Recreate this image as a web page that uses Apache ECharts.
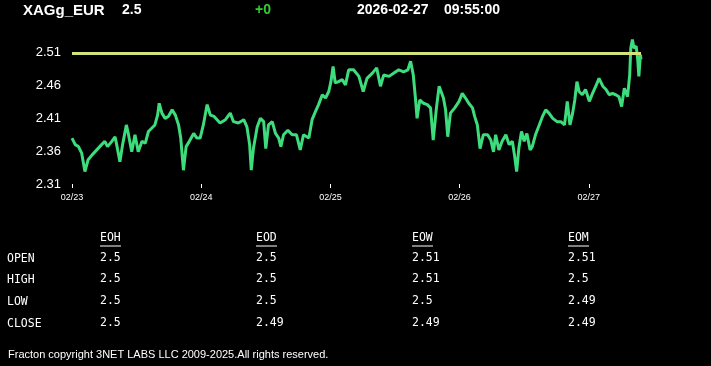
<!DOCTYPE html>
<html>
<head>
<meta charset="utf-8">
<script src="https://cdn.jsdelivr.net/npm/echarts@6/dist/echarts.min.js"></script>
<style>
html,body{margin:0;padding:0;background:#000;}
#chart{width:711px;height:366px;}
</style>
</head>
<body>
<div id="chart"></div>
<script>
// ---- header ----
var symbolName = 'XAGg_EUR';
var lastPrice = '2.5';
var changeText = '+0';
var dateText = '2026-02-27';
var timeText = '09:55:00';

// ---- axes ----
var yTickLabels = [2.31, 2.36, 2.41, 2.46, 2.51];
var dayTicks = [0, 24, 48, 72, 96];          // hours since 02/23 00:00
var dayLabels = ['02/23', '02/24', '02/25', '02/26', '02/27'];
var refLevel = 2.507;

// ---- series: hours since 02/23 00:00, price ----
var hours = [0,0.6,1.2,1.8,2.4,3.0,3.7,4.6,5.5,6.1,6.6,7.4,8.0,8.3,8.9,9.4,10.1,10.5,11.1,11.7,12.3,13.0,13.6,14.2,14.8,15.4,15.9,16.2,16.7,17.3,17.9,18.6,19.2,19.8,20.2,20.7,21.2,21.8,22.6,23.2,23.8,24.4,25.1,25.7,26.4,
 27.5,28.5,29.4,30.0,30.9,31.9,32.5,33.0,33.3,33.7,34.4,35.0,35.6,36.0,36.5,37.2,37.8,38.4,38.8,39.3,40.1,40.9,41.7,42.4,43.0,44.0,44.6,45.2,45.8,46.5,47.1,47.7,48.1,48.5,48.9,49.5,50.2,50.8,51.4,52.3,
 53.3,54.1,54.8,55.8,56.6,57.3,57.9,58.9,59.8,60.7,61.6,62.4,62.9,63.4,63.8,64.1,64.6,65.3,66.0,66.6,67.1,67.7,68.2,69.0,69.4,69.8,70.3,71.1,71.9,72.5,73.1,73.7,74.4,74.8,75.3,75.8,76.4,77.2,77.8,78.3,78.7,
 79.3,79.9,80.6,81.2,81.8,82.2,82.6,83.0,83.5,84.0,84.5,85.1,85.5,86.1,86.8,87.4,88.0,88.6,89.3,90.1,90.8,91.5,92.0,92.5,93.0,93.4,93.8,94.2,94.8,95.4,96.1,96.7,97.3,97.9,98.6,99.2,99.8,100.4,101.0,101.6,102.1,102.6,103.2,103.6,103.8,104.1,104.4,104.8,105.1,105.3,105.6,105.7];
var prices = [2.380,2.370,2.367,2.357,2.329,2.347,2.354,2.362,2.370,2.375,2.367,2.375,2.382,2.370,2.344,2.370,2.400,2.385,2.359,2.385,2.359,2.375,2.372,2.390,2.395,2.400,2.415,2.433,2.418,2.410,2.413,2.423,2.415,2.400,2.380,2.331,2.367,2.375,2.387,2.380,2.380,2.400,2.431,2.415,2.413,
 2.403,2.408,2.418,2.405,2.403,2.408,2.397,2.370,2.331,2.364,2.397,2.410,2.405,2.364,2.400,2.405,2.387,2.380,2.367,2.385,2.392,2.385,2.385,2.362,2.385,2.380,2.408,2.420,2.431,2.446,2.441,2.451,2.466,2.489,2.464,2.466,2.469,2.461,2.484,2.484,
 2.474,2.451,2.471,2.479,2.487,2.459,2.476,2.474,2.479,2.484,2.481,2.484,2.497,2.476,2.441,2.410,2.438,2.433,2.431,2.426,2.377,2.426,2.459,2.441,2.423,2.382,2.418,2.426,2.436,2.448,2.441,2.433,2.426,2.413,2.400,2.364,2.385,2.385,2.377,2.359,2.385,
 2.362,2.375,2.385,2.370,2.375,2.354,2.329,2.364,2.390,2.375,2.387,2.362,2.367,2.385,2.400,2.413,2.423,2.418,2.410,2.405,2.405,2.400,2.436,2.400,2.418,2.438,2.466,2.451,2.446,2.454,2.436,2.448,2.459,2.471,2.459,2.454,2.446,2.448,2.446,2.443,2.428,2.456,2.443,2.476,2.517,2.530,2.517,2.520,2.499,2.474,2.507,2.500];

// ---- table ----
var tableCols = ['EOH', 'EOD', 'EOW', 'EOM'];
var rowLabels = ['OPEN', 'HIGH', 'LOW', 'CLOSE'];
var tableValues = [
  ['2.5', '2.5', '2.51', '2.51'],
  ['2.5', '2.5', '2.51', '2.5'],
  ['2.5', '2.5', '2.5', '2.49'],
  ['2.5', '2.49', '2.49', '2.49']
];
var footerText = 'Fracton copyright 3NET LABS LLC 2009-2025.All rights reserved.';

var seriesData = hours.map(function (h, i) { return [h, prices[i]]; });

var colX = [100, 256, 412, 568];
var headerY = 239;
var rowY = [260, 281, 303, 325];
var mono = '"DejaVu Sans Mono", monospace';
var graphics = [];
tableCols.forEach(function (c, j) {
  graphics.push({type: 'text', left: colX[j], top: headerY - 7,
    style: {text: c, fill: '#fff', font: '11.5px ' + mono}});
  graphics.push({type: 'line', shape: {x1: colX[j], y1: headerY + 7, x2: colX[j] + c.length * 7, y2: headerY + 7},
    style: {stroke: '#fff', lineWidth: 1}});
});
rowLabels.forEach(function (r, i) {
  graphics.push({type: 'text', left: 7, top: rowY[i] - 7,
    style: {text: r, fill: '#fff', font: '11.5px ' + mono}});
  tableValues[i].forEach(function (v, j) {
    graphics.push({type: 'text', left: colX[j], top: rowY[i] - 8,
      style: {text: v, fill: '#fff', font: '11.5px ' + mono}});
  });
});
var hdrFont = 'bold 14px "Liberation Sans", Arial, sans-serif';
graphics.push({type: 'text', left: 23, top: 3, style: {text: symbolName, fill: '#fff', font: 'bold 15px "Liberation Sans", Arial, sans-serif'}});
graphics.push({type: 'text', left: 122, top: 3, style: {text: lastPrice, fill: '#fff', font: hdrFont}});
graphics.push({type: 'text', left: 255, top: 3, style: {text: changeText, fill: '#33cc33', font: hdrFont}});
graphics.push({type: 'text', left: 357, top: 3, style: {text: dateText, fill: '#fff', font: hdrFont}});
graphics.push({type: 'text', left: 444, top: 3, style: {text: timeText, fill: '#fff', font: hdrFont}});
graphics.push({type: 'text', left: 8, top: 349, style: {text: footerText, fill: '#fff', font: '11px "Liberation Sans", Arial, sans-serif'}});

var chart = echarts.init(document.getElementById('chart'), null, {renderer: 'canvas'});
chart.setOption({
  backgroundColor: '#000',
  animation: false,
  grid: {left: 72, right: 70, top: 37, bottom: 182, containLabel: false},
  xAxis: {
    type: 'value', min: 0, max: 105.7,
    axisLine: {show: false},
    splitLine: {show: false},
    axisTick: {show: true, length: 4, customValues: dayTicks, lineStyle: {color: '#fff', width: 1}},
    axisLabel: {
      customValues: dayTicks, color: '#fff', fontSize: 9, margin: 9,
      fontFamily: '"Liberation Sans", Arial, sans-serif',
      formatter: function (v) { var k = dayTicks.indexOf(v); return k >= 0 ? dayLabels[k] : ''; }
    }
  },
  yAxis: {
    type: 'value', min: 2.31, max: 2.534, scale: true,
    axisLine: {show: false}, axisTick: {show: false}, splitLine: {show: false},
    axisLabel: {
      customValues: yTickLabels, color: '#fff', fontSize: 13, margin: 11,
      fontFamily: '"Liberation Sans", Arial, sans-serif',
      formatter: function (v) { return v.toFixed(2); }
    }
  },
  series: [{
    type: 'line', data: seriesData, showSymbol: false, symbol: 'none',
    lineStyle: {color: '#3ddc7c', width: 3},
    markLine: {
      symbol: ['none', 'none'], silent: true, label: {show: false},
      lineStyle: {color: '#d5e27a', width: 3, type: 'solid'},
      data: [{yAxis: refLevel}]
    }
  }],
  graphic: graphics
});
</script>
</body>
</html>
